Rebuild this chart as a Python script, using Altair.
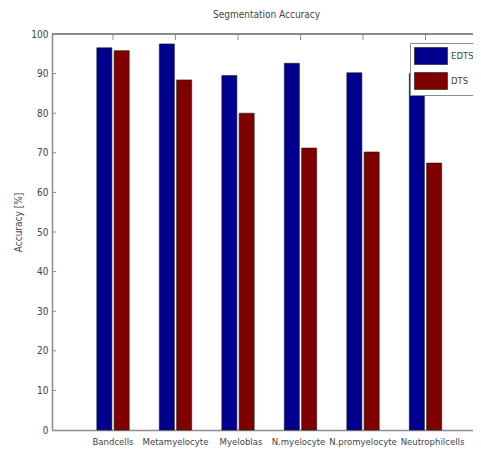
import altair as alt
import pandas as pd

categories = ["Bandcells", "Metamyelocyte", "Myeloblas", "N.myelocyte", "N.promyelocyte", "Neutrophilcells"]
methods = ["EDTS", "DTS"]
edts = [96.5, 97.5, 89.5, 92.6, 90.2, 90.0]
dts = [95.8, 88.4, 80.0, 71.2, 70.2, 67.4]
y_ticks = [10, 20, 30, 40, 50, 60, 70, 80, 90]
y_labels = [0, 10, 20, 30, 40, 50, 60, 70, 80, 90, 100]
colors = ["#00008F", "#800000"]

FONT = "Liberation Sans Narrow, Arial Narrow, DejaVu Sans Condensed, sans-serif"
TXT = "#444444"
LINE = "#8c8c8c"

rows = []
for c, a, b in zip(categories, edts, dts):
    rows.append({"cat": c, "method": "EDTS", "value": a})
    rows.append({"cat": c, "method": "DTS", "value": b})
df = pd.DataFrame(rows)
cat_df = pd.DataFrame({"cat": categories})
tick_df = pd.DataFrame({"value": y_ticks})

xscale = alt.Scale(domain=categories, paddingInner=0, paddingOuter=0.368, align=0.647)
yscale = alt.Scale(domain=[0, 100], nice=False)

label_shift = {
    "condition": [
        {"test": "datum.value === 'Neutrophilcells'", "value": 7},
        {"test": "datum.value === 'Myeloblas'", "value": 3},
        {"test": "datum.value === 'N.myelocyte'", "value": -2},
    ],
    "value": 0,
}

x_axis = alt.Axis(orient="bottom", title=None, labelAngle=0, ticks=False,
                  domain=True, domainColor=LINE, domainWidth=1.5,
                  labelFont=FONT, labelFontSize=9.5, labelColor=TXT,
                  labelPadding=6, labelOverlap=False, labelOffset=label_shift)
y_axis = alt.Axis(values=y_labels, ticks=False, grid=False, labelOverlap=False,
                  domain=True, domainColor=LINE, domainWidth=1.5,
                  labelFont=FONT, labelFontSize=10, labelColor=TXT, labelPadding=4,
                  title="Accuracy [%]", titleFont=FONT, titleFontSize=10,
                  titleFontWeight="normal", titleColor=TXT, titleAngle=-90,
                  titleX=-34, titleY=188, titleAlign="center", titleBaseline="middle")

bars = alt.Chart(df).mark_bar(stroke="#1a1a1a", strokeWidth=0.6).encode(
    x=alt.X("cat:N", sort=categories, scale=xscale, axis=x_axis),
    xOffset=alt.XOffset("method:N", sort=methods,
                        scale=alt.Scale(domain=methods, paddingInner=0.13, paddingOuter=0.87)),
    y=alt.Y("value:Q", scale=yscale, axis=y_axis),
    color=alt.Color("method:N", sort=methods,
                    scale=alt.Scale(domain=methods, range=colors),
                    legend=alt.Legend(orient="none", legendX=358, legendY=9, title=None,
                                      strokeColor=LINE, fillColor="white", padding=4,
                                      symbolType="M-1,-1H2.88V1H-1Z", symbolSize=289,
                                      symbolStrokeColor="#1a1a1a", symbolStrokeWidth=0.6,
                                      symbolOpacity=1,
                                      labelFont=FONT, labelFontSize=9.5, labelColor=TXT,
                                      labelOffset=19, rowPadding=5)),
)

top_line = alt.Chart(cat_df).mark_rule(color=LINE, strokeWidth=1.5).encode(
    y=alt.datum(100, scale=yscale, axis=y_axis)
)

top_ticks = alt.Chart(cat_df).mark_rule(color=LINE, strokeWidth=1).encode(
    x=alt.X("cat:N", sort=categories, scale=xscale, axis=x_axis),
    y=alt.datum(100, axis=y_axis),
    y2=alt.datum(98.5),
)

y_tick_marks = alt.Chart(tick_df).mark_rule(color=LINE, strokeWidth=1).encode(
    y=alt.Y("value:Q", scale=yscale, axis=y_axis),
    x=alt.value(0),
    x2=alt.value(4),
)

chart = alt.layer(bars, top_line, top_ticks, y_tick_marks).properties(
    width=421, height=396,
    title=alt.TitleParams("Segmentation Accuracy", font=FONT, fontSize=10,
                          fontWeight="normal", color=TXT, anchor="middle", offset=9, dx=4),
    autosize=alt.AutoSizeParams(type="none"),
    padding={"left": 44, "top": 26, "right": 0, "bottom": 19},
).configure_view(stroke=None)

chart.save("out.html", embed_options={"renderer": "svg", "actions": False})
